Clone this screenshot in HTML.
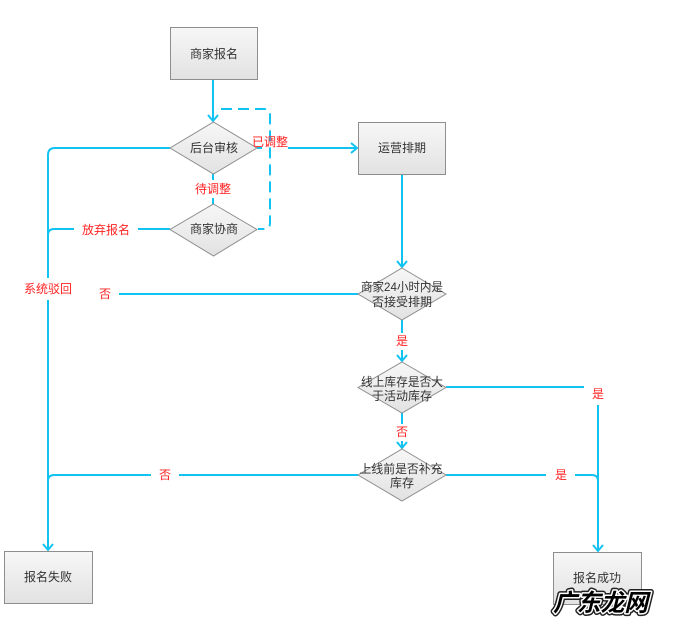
<!DOCTYPE html>
<html><head><meta charset="utf-8"><style>
html,body{margin:0;padding:0;background:#fff;}
svg{display:block;}
text{font-family:"Liberation Sans","Noto Sans CJK SC",sans-serif;}
</style></head><body>
<svg width="687" height="631" viewBox="0 0 687 631" xmlns="http://www.w3.org/2000/svg">
<defs>
<linearGradient id="g" x1="0" y1="0" x2="0" y2="1">
<stop offset="0" stop-color="#f7f7f7"/><stop offset="1" stop-color="#e2e2e2"/>
</linearGradient>
</defs>
<g fill="none" stroke="#12c3f2" stroke-width="2">
<!-- start to audit -->
<path d="M213 80 V121"/>
<path d="M208 115 L213 121 L218 115"/>
<!-- dashed loop -->
<path d="M221 109 H264 Q270 109 270 115 V223 Q270 229 264 229 H258" stroke-dasharray="11 6"/>
<!-- audit right to ops -->
<path d="M257 148 H262"/>
<path d="M288 148 H357"/>
<path d="M351 143 L357 148 L351 153"/>
<!-- audit left down to fail -->
<path d="M170 148 H55 Q48 148 48 155 V278"/>
<path d="M48 300 V550"/>
<path d="M43 544 L48 550 L53 544"/>
<!-- audit to negotiate -->
<path d="M213 174 V180"/>
<path d="M213 198 V204"/>
<!-- negotiate left -->
<path d="M170 229 H138"/>
<path d="M74 229 H54 Q48 229 48 235"/>
<!-- ops to d1 -->
<path d="M402 174 V267"/>
<path d="M397 261 L402 267 L407 261"/>
<!-- d1 left -->
<path d="M358 294 H119"/>
<!-- d1 to d2 -->
<path d="M402 320 V333"/>
<path d="M402 350 V361"/>
<path d="M397 355 L402 361 L407 355"/>
<!-- d2 right -->
<path d="M446 387 H584"/>
<path d="M598 405 V551"/>
<path d="M593 545 L598 551 L603 545"/>
<!-- d2 to d3 -->
<path d="M402 413 V424"/>
<path d="M402 441 V448"/>
<path d="M397 442 L402 448 L407 442"/>
<!-- d3 left -->
<path d="M358 475 H179"/>
<path d="M151 475 H54 Q48 475 48 481"/>
<!-- d3 right -->
<path d="M446 475 H546"/>
<path d="M575 475 H592 Q598 475 598 481"/>
</g>
<!-- nodes -->
<g stroke="#8e8e8e" stroke-width="1" fill="url(#g)">
<rect x="170.5" y="27.5" width="87" height="52"/>
<rect x="358.5" y="122.5" width="87" height="52"/>
<rect x="4.5" y="551.5" width="88" height="52"/>
<rect x="553.5" y="552.5" width="88" height="52"/>
<polygon points="213.5,122 257,148 213.5,174 170,148"/>
<polygon points="213.5,204 257,229.5 213.5,256 170,229.5"/>
<polygon points="402,268 446,294 402,320 358,294"/>
<polygon points="402,362 446,387.5 402,413 358,387.5"/>
<polygon points="402,449 446,475 402,501 358,475"/>
</g>
<g fill="#333" font-size="12" text-anchor="middle">
<text x="214" y="58">商家报名</text>
<text x="402" y="152">运营排期</text>
<text x="214" y="152">后台审核</text>
<text x="214" y="233">商家协商</text>
<text x="402" y="291" textLength="82" lengthAdjust="spacingAndGlyphs">商家24小时内是</text>
<text x="402" y="306">否接受排期</text>
<text x="402" y="386" textLength="82" lengthAdjust="spacingAndGlyphs">线上库存是否大</text>
<text x="402" y="400">于活动库存</text>
<text x="401" y="473" textLength="83" lengthAdjust="spacingAndGlyphs">上线前是否补充</text>
<text x="402" y="487">库存</text>
<text x="48" y="581">报名失败</text>
<text x="597" y="582">报名成功</text>
</g>
<g fill="#ff2222" font-size="12" text-anchor="middle">
<text x="270" y="146">已调整</text>
<text x="213" y="193">待调整</text>
<text x="106" y="234">放弃报名</text>
<text x="48" y="293">系统驳回</text>
<text x="105" y="298">否</text>
<text x="402" y="345">是</text>
<text x="598" y="398">是</text>
<text x="402" y="436">否</text>
<text x="165" y="479">否</text>
<text x="561" y="479">是</text>
</g>
<!-- watermark -->
<g font-size="24" font-weight="bold" font-style="italic">
<text x="553" y="611" textLength="95" lengthAdjust="spacingAndGlyphs" fill="#000" stroke="#222" stroke-width="6" stroke-linejoin="round">广东龙网</text>
<text x="553" y="611" textLength="95" lengthAdjust="spacingAndGlyphs" fill="#000" stroke="#fff" stroke-width="3" stroke-linejoin="round" paint-order="stroke">广东龙网</text>
</g>
</svg>
</body></html>
